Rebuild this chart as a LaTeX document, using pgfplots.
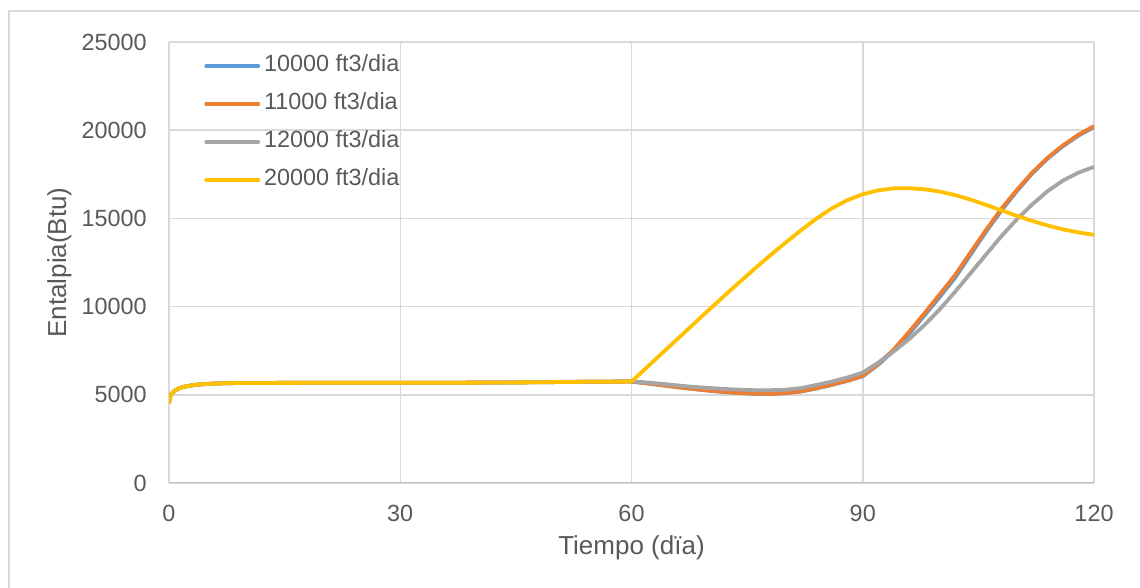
\documentclass[border=0pt]{standalone}
\usepackage{fontspec}
\setmainfont{Liberation Sans}
\usepackage{pgfplots}
\usepackage{pgfplotstable}
\pgfplotsset{compat=1.18}

\definecolor{serA}{HTML}{5B9BD5}
\definecolor{serB}{HTML}{ED7D31}
\definecolor{serC}{HTML}{A5A5A5}
\definecolor{serD}{HTML}{FFC000}
\definecolor{gridgray}{HTML}{D9D9D9}
\definecolor{axisgray}{HTML}{BFBFBF}
\definecolor{textgray}{HTML}{595959}

% dia  entalpia
\pgfplotstableread{
x y
0 4500
0.1 4800
0.3 5050
0.65 5200
1.2 5350
1.9 5450
3 5540
4 5590
6 5640
9 5670
20 5680
30 5680
40 5690
45 5700
50 5720
55 5740
60 5750
62 5650
64 5540
66 5430
68 5330
70 5240
72 5160
74 5100
76 5060
78 5050
80 5090
82 5190
84 5360
86 5560
88 5790
90 6050
92 6700
94 7500
96 8450
98 9500
100 10550
102 11650
104 12950
106 14250
108 15450
110 16550
112 17550
114 18400
116 19100
118 19700
120 20170
}\tabA

\pgfplotstableread{
x y
0 4500
0.1 4800
0.3 5050
0.65 5200
1.2 5350
1.9 5450
3 5540
4 5590
6 5640
9 5670
20 5680
30 5680
40 5690
45 5700
50 5720
55 5740
60 5750
62 5650
64 5540
66 5430
68 5330
70 5240
72 5160
74 5100
76 5060
78 5050
80 5090
82 5190
84 5370
86 5580
88 5800
90 6070
92 6750
94 7560
96 8560
98 9620
100 10700
102 11800
104 13080
106 14350
108 15550
110 16620
112 17600
114 18450
116 19150
118 19750
120 20230
}\tabB

\pgfplotstableread{
x y
0 4500
0.1 4800
0.3 5050
0.65 5200
1.2 5350
1.9 5450
3 5540
4 5590
6 5640
9 5670
20 5680
30 5680
40 5690
45 5710
50 5730
55 5750
60 5760
62 5700
64 5620
66 5530
68 5450
70 5390
72 5330
74 5290
76 5260
78 5260
80 5290
82 5380
84 5560
86 5750
88 5980
90 6260
92 6820
94 7450
96 8150
98 8950
100 9850
102 10850
104 11900
106 12950
108 14000
110 14950
112 15800
114 16550
116 17150
118 17600
120 17920
}\tabC

\pgfplotstableread{
x y
0 4500
0.1 4800
0.3 5050
0.65 5200
1.2 5350
1.9 5450
3 5540
4 5590
6 5640
9 5670
20 5680
30 5680
40 5690
45 5700
50 5720
55 5740
60 5750
62 6560
64 7370
66 8180
68 8990
70 9800
72 10595
74 11380
76 12155
78 12905
80 13630
82 14330
84 14990
86 15570
88 16030
90 16370
92 16590
94 16700
95 16715
96 16710
98 16650
100 16520
102 16320
104 16060
106 15765
108 15455
110 15145
112 14855
114 14595
116 14375
118 14205
120 14070
}\tabD

\begin{document}
\begin{tikzpicture}
\useasboundingbox (0,0) rectangle (570pt,294pt);
\draw[color=gridgray, line width=0.6pt] (4.5pt,-10pt) rectangle (590pt,288.5pt);
\begin{axis}[
  at={(84.5pt,52.5pt)}, anchor=south west,
  scale only axis, width=462.5pt, height=220.5pt,
  xmin=0, xmax=120, ymin=0, ymax=25000,
  xtick={0,30,60,90,120},
  ytick={0,5000,10000,15000,20000,25000},
  scaled y ticks=false,
  /pgf/number format/1000 sep={},
  /pgf/number format/assume math mode=true,
  major tick length=0pt,
  grid=major,
  major grid style={color=gridgray, line width=0.75pt},
  axis line style={draw=none},
  tick label style={font=\fontsize{11.7pt}{14pt}\selectfont, color=textgray, inner sep=0pt},
  yticklabel style={anchor=east, xshift=-11pt},
  xticklabel style={anchor=north, yshift=-11pt},
  label style={font=\fontsize{13pt}{15pt}\selectfont, color=textgray},
  xlabel={Tiempo (dïa)},
  ylabel={Entalpia(Btu)},
  x label style={at={([yshift=-36pt]axis description cs:0.5,0)}, anchor=base},
  y label style={at={([xshift=-51.5pt]axis description cs:0,0.5)}, anchor=base},
  legend style={
    at={(0.0378,0.9714)}, anchor=north west,
    draw=none, fill=none, inner sep=0pt,
    font=\fontsize{11.7pt}{14pt}\selectfont, text=textgray,
    nodes={inner sep=0pt, text height=8.4pt, text depth=2.5pt},
    row sep=8.1pt, column sep=2pt,
  },
  legend cell align=left,
  legend image code/.code={\draw[#1, line width=1.9pt, line cap=round] (0.5pt,0pt) -- (26.5pt,0pt);},
]
\draw[color=axisgray, line width=0.75pt] (rel axis cs:0,0) -- (rel axis cs:1,0);
\addplot[color=serA, line width=1.9pt, line join=round] table {\tabA};
\addlegendentry{10000 ft3/dia}
\addplot[color=serB, line width=1.9pt, line join=round] table {\tabB};
\addlegendentry{11000 ft3/dia}
\addplot[color=serC, line width=1.9pt, line join=round] table {\tabC};
\addlegendentry{12000 ft3/dia}
\addplot[color=serD, line width=1.9pt, line join=round] table {\tabD};
\addlegendentry{20000 ft3/dia}
\end{axis}
\end{tikzpicture}
\end{document}
